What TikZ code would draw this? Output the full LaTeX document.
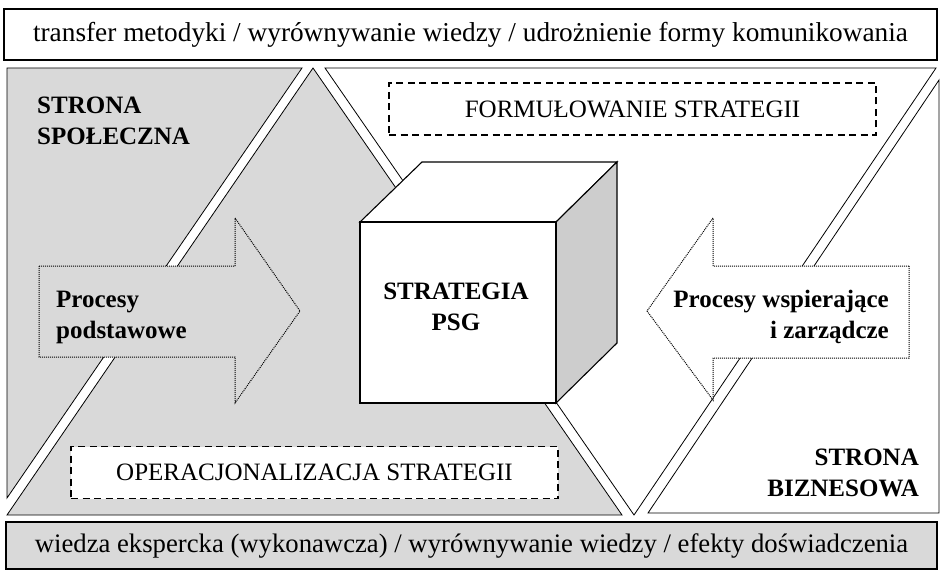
\documentclass[tikz,border=0pt]{standalone}
\usepackage{fontspec}
\setmainfont{Liberation Serif}
\definecolor{lgray}{RGB}{217,217,217}
\definecolor{cgray}{RGB}{205,205,205}
\tikzset{
  part/.style={draw=black,line width=0.8pt,line join=miter},
  barbox/.style={draw=black,line width=1.8pt,inner sep=0pt},
  cubeface/.style={draw=black,line width=1.1pt,line join=miter},
  dashbox/.style={draw=black,dash pattern=on 7pt off 4.5pt,line width=1.1pt,fill=white,inner sep=0pt,minimum width=487pt,minimum height=52pt},
  procarrow/.style={draw=black,densely dotted,line width=1pt,line join=miter},
  txt/.style={font=\fontsize{25}{31}\selectfont,inner sep=0pt},
  bartxt/.style={font=\fontsize{27.3}{31}\selectfont,inner sep=0pt},
  btxt/.style={font=\fontsize{25}{31}\selectfont\bfseries,inner sep=0pt},
}
\begin{document}
\begin{tikzpicture}[x=1pt,y=-1pt]
\useasboundingbox (0,0) rectangle (941,572);
% top and bottom bars
\node[barbox,fill=white,minimum width=933pt,minimum height=51pt,bartxt] (topbar) at (470.5,34.5)
  {transfer metodyki / wyrównywanie wiedzy / udrożnienie formy komunikowania};
\node[barbox,fill=lgray,minimum width=931pt,minimum height=47pt,bartxt,font=\fontsize{26.7}{31}\selectfont] (botbar) at (471.5,545.5)
  {wiedza ekspercka (wykonawcza) / wyrównywanie wiedzy / efekty doświadczenia};
% four triangular parts
\filldraw[part,fill=lgray] (7,68) -- (302,68) -- (7,498) -- cycle;
\filldraw[part,fill=lgray] (313,68) -- (622,515) -- (7,515) -- cycle;
\filldraw[part,fill=white] (325,68) -- (936,68) -- (634,515) -- cycle;
\filldraw[part,fill=white] (939,80) -- (939,513) -- (648,513) -- cycle;
% dashed boxes
\node[dashbox,txt] (form) at (632.5,109) {FORMUŁOWANIE STRATEGII};
\node[dashbox,txt] (oper) at (314.5,472.5) {OPERACJONALIZACJA STRATEGII};
% cube
\filldraw[cubeface,fill=white] (360,222) -- (422,162) -- (617,162) -- (556,222) -- cycle;
\filldraw[cubeface,fill=cgray] (556,222) -- (617,162) -- (617,343) -- (556,403) -- cycle;
\filldraw[cubeface,fill=white] (360,222) rectangle (556,403);
\node[btxt,align=center] (psg) at (456,306.5) {STRATEGIA\\PSG};
% process arrows
\filldraw[procarrow,fill=lgray] (39,266) -- (235,266) -- (235,218) -- (300,311) -- (235,403) -- (235,357) -- (39,357) -- cycle;
\filldraw[procarrow,fill=white] (909,266) -- (713,266) -- (713,218) -- (647,311) -- (713,400) -- (713,358) -- (909,358) -- cycle;
\node[btxt,align=left,anchor=west] (podst) at (56,317) {Procesy\\podstawowe};
\node[btxt,align=right,anchor=east] (wsp) at (889,317) {Procesy wspierające\\i zarządcze};
% side labels
\node[btxt,align=left,anchor=west] (spol) at (37,121) {STRONA\\SPOŁECZNA};
\node[btxt,align=right,anchor=east] (bizn) at (919,472.5) {STRONA\\BIZNESOWA};
\end{tikzpicture}
\end{document}
